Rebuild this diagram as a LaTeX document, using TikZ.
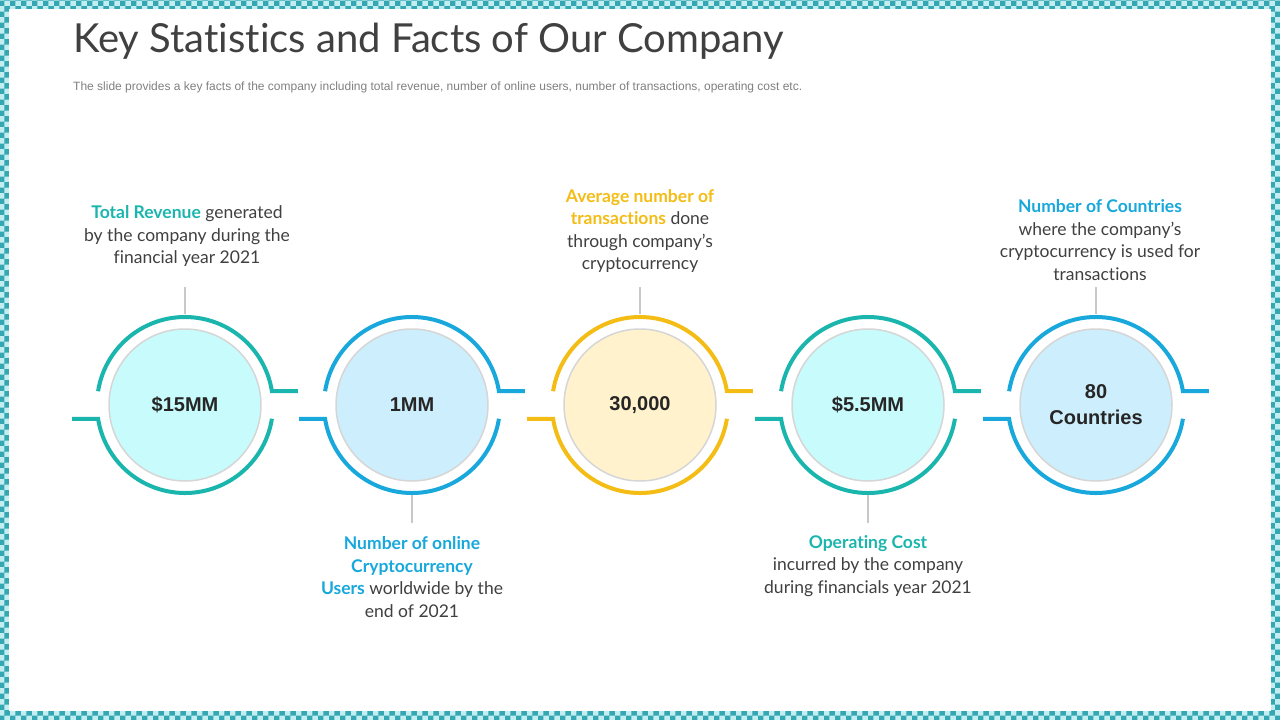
\documentclass[tikz,border=0pt]{standalone}
\usepackage{fontspec}
\setmainfont{Lato}[Ligatures=CommonOff]
\newfontfamily\arialfont{Liberation Sans}
\usetikzlibrary{patterns}

\definecolor{tealc}{HTML}{1AB6AE}
\definecolor{bluec}{HTML}{18A8DC}
\definecolor{yellowc}{HTML}{F4BD16}
\definecolor{tealfill}{HTML}{C8FBFB}
\definecolor{bluefill}{HTML}{CDEEFC}
\definecolor{yellowfill}{HTML}{FFF2CC}
\definecolor{ringgray}{HTML}{D6D6D6}
\definecolor{linkgray}{HTML}{C8C8C8}
\definecolor{textgray}{HTML}{404040}
\definecolor{framelight}{HTML}{C2EEF2}
\definecolor{framedark}{HTML}{34A7B2}

\tikzset{
  ring/.style={line width=4pt},
  inner/.style={circle, minimum size=152pt, inner sep=0pt, draw=ringgray, line width=1.5pt,
    font=\arialfont\bfseries\fontsize{20}{24}\selectfont, text=black!85, align=center},
  link/.style={draw=linkgray, line width=1.5pt},
  fact/.style={align=center, text=textgray, font=\fontsize{17.5}{22.5}\selectfont}
}

\begin{document}
\begin{tikzpicture}[x=1pt,y=-1pt]
  % frame
  \fill[framelight] (0,0) rectangle (1280,720);
  \fill[pattern=checkerboard, pattern color=framedark] (0,0) rectangle (1280,720);
  \fill[white] (9,9) rectangle (1271,711);
  \useasboundingbox (0,0) rectangle (1280,720);

  % title
  \node[anchor=base west, inner sep=0pt, text=textgray, font=\fontsize{40}{48}\selectfont] (title) at (73,52)
    {Key Statistics and Facts of Our Company};
  \node[anchor=base west, inner sep=0pt, text=black!50, font=\arialfont\fontsize{12}{14}\selectfont] (subtitle) at (73,90)
    {The slide provides a key facts of the company including total revenue, number of online users, number of transactions, operating cost etc.};

  % circles
  \node[inner, fill=tealfill] (c1) at (185,405) {\$15MM};
  \node[inner, fill=bluefill] (c2) at (412,405) {1MM};
  \node[inner, fill=yellowfill] (c3) at (640,405) {30,000};
  \node[inner, fill=tealfill] (c4) at (868,405) {\$5.5MM};
  \node[inner, fill=bluefill] (c5) at (1096,405) {80\\[2pt]Countries};

  % rings with tails
  \draw[ring, tealc] (c1.center) ++(189:88) arc[start angle=189, end angle=351, radius=88] -- ++(26,0);
  \draw[ring, tealc] (c1.center) ++(9:88) arc[start angle=9, end angle=171, radius=88] -- ++(-26,0);
  \draw[ring, bluec] (c2.center) ++(189:88) arc[start angle=189, end angle=351, radius=88] -- ++(26,0);
  \draw[ring, bluec] (c2.center) ++(9:88) arc[start angle=9, end angle=171, radius=88] -- ++(-26,0);
  \draw[ring, yellowc] (c3.center) ++(189:88) arc[start angle=189, end angle=351, radius=88] -- ++(26,0);
  \draw[ring, yellowc] (c3.center) ++(9:88) arc[start angle=9, end angle=171, radius=88] -- ++(-26,0);
  \draw[ring, tealc] (c4.center) ++(189:88) arc[start angle=189, end angle=351, radius=88] -- ++(26,0);
  \draw[ring, tealc] (c4.center) ++(9:88) arc[start angle=9, end angle=171, radius=88] -- ++(-26,0);
  \draw[ring, bluec] (c5.center) ++(189:88) arc[start angle=189, end angle=351, radius=88] -- ++(26,0);
  \draw[ring, bluec] (c5.center) ++(9:88) arc[start angle=9, end angle=171, radius=88] -- ++(-26,0);

  % texts
  \node[fact] (f1) at (187,236)
    {\textcolor{tealc}{\bfseries Total Revenue} generated\\by the company during the\\financial year 2021};
  \node[fact] (f2) at (412,577)
    {\textcolor{bluec}{\bfseries Number of online}\\\textcolor{bluec}{\bfseries Cryptocurrency}\\\textcolor{bluec}{\bfseries Users} worldwide by the\\end of 2021};
  \node[fact] (f3) at (640,231)
    {\textcolor{yellowc}{\bfseries Average number of}\\\textcolor{yellowc}{\bfseries transactions} done\\through company’s\\cryptocurrency};
  \node[fact] (f4) at (868,566)
    {\textcolor{tealc}{\bfseries Operating Cost}\\incurred by the company\\during financials year 2021};
  \node[fact] (f5) at (1100,240)
    {\textcolor{bluec}{\bfseries Number of Countries}\\where the company’s\\cryptocurrency is used for\\transactions};

  % links
  \coordinate (t1) at (185,287); \coordinate (r1) at (185,314);
  \coordinate (t2) at (412,523); \coordinate (r2) at (412,495);
  \coordinate (t3) at (640,287); \coordinate (r3) at (640,314);
  \coordinate (t4) at (868,523); \coordinate (r4) at (868,495);
  \coordinate (t5) at (1096,287); \coordinate (r5) at (1096,314);
  \draw[link] (t1) -- (r1);
  \draw[link] (t2) -- (r2);
  \draw[link] (t3) -- (r3);
  \draw[link] (t4) -- (r4);
  \draw[link] (t5) -- (r5);
\end{tikzpicture}
\end{document}
